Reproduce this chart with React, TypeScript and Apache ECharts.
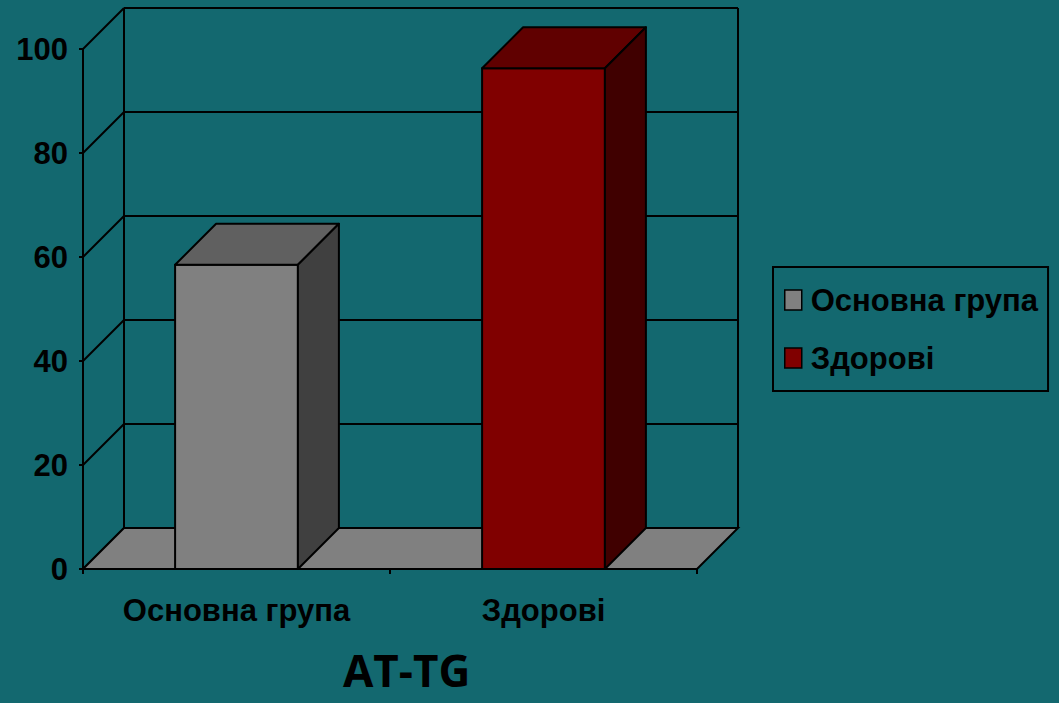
import React, { useEffect, useRef } from "react";
import * as echarts from "echarts";

const categories = ["Основна група", "Здорові"];
const seriesNames = ["Основна група", "Здорові"];
const values = [58.5, 96.3];
const wallTicks = [0, 20, 40, 60, 80, 100];
const titleText = "AT-TG";

const faceColors = [
  { front: "#808080", top: "#606060", side: "#404040" },
  { front: "#800000", top: "#600000", side: "#400000" },
];

const BG = "#13686F";
const DEPTH = 41;
const FONT = '"Liberation Sans", Arial, sans-serif';

export default function App() {
  const ref = useRef<HTMLDivElement>(null);
  useEffect(() => {
    if (!ref.current) return;
    const chart = echarts.init(ref.current, null, { renderer: "svg" });

    const wallSeries: any = {
      type: "custom",
      name: "walls",
      silent: true,
      z: 1,
      data: wallTicks.map((v) => [0, v]),
      renderItem: (params: any, api: any) => {
        const cs = params.coordSys;
        const left = cs.x;
        const right = cs.x + cs.width;
        const v = api.value(1);
        const y = api.coord([0, v])[1];
        const children: any[] = [];
        const ls = { stroke: "#000", lineWidth: 2 };
        children.push({ type: "line", shape: { x1: left, y1: y, x2: left + DEPTH, y2: y - DEPTH }, style: ls });
        children.push({ type: "line", shape: { x1: left + DEPTH, y1: y - DEPTH, x2: right + DEPTH, y2: y - DEPTH }, style: ls });
        if (v === wallTicks[0]) {
          const yTop = api.coord([0, wallTicks[wallTicks.length - 1]])[1];
          children.push({ type: "line", shape: { x1: left + DEPTH, y1: y - DEPTH, x2: left + DEPTH, y2: yTop - DEPTH }, style: ls });
          children.push({ type: "line", shape: { x1: right + DEPTH, y1: y - DEPTH, x2: right + DEPTH, y2: yTop - DEPTH }, style: ls });
          children.push({
            type: "polygon",
            z2: 5,
            shape: { points: [[left, y], [right, y], [right + DEPTH, y - DEPTH], [left + DEPTH, y - DEPTH]] },
            style: { fill: "#808080", stroke: "#000", lineWidth: 2 },
          });
        }
        return { type: "group", children };
      },
    };

    const barSeries = seriesNames.map((name, i) => ({
      type: "custom",
      name,
      z: 3,
      itemStyle: { color: faceColors[i].front },
      data: [[i, values[i]]],
      renderItem: (params: any, api: any) => {
        const ci = api.value(0);
        const v = api.value(1);
        const [cx, y] = api.coord([ci, v]);
        const y0 = api.coord([ci, 0])[1];
        const catW = api.size([1, 0])[0];
        const w = catW * 0.4;
        const l = cx - w / 2;
        const c = faceColors[i];
        const st = { stroke: "#000", lineWidth: 2, lineJoin: "round" };
        return {
          type: "group",
          children: [
            { type: "rect", shape: { x: l, y, width: w, height: y0 - y }, style: { ...st, fill: c.front } },
            {
              type: "polygon",
              shape: { points: [[l, y], [l + w, y], [l + w + DEPTH, y - DEPTH], [l + DEPTH, y - DEPTH]] },
              style: { ...st, fill: c.top },
            },
            {
              type: "polygon",
              shape: { points: [[l + w, y], [l + w + DEPTH, y - DEPTH], [l + w + DEPTH, y0 - DEPTH], [l + w, y0]] },
              style: { ...st, fill: c.side },
            },
          ],
        };
      },
    }));

    chart.setOption({
      animation: false,
      backgroundColor: BG,
      title: {
        text: titleText,
        left: 343,
        top: 647,
        padding: 0,
        textStyle: { fontFamily: '"Open Sans", sans-serif', fontWeight: "bold", fontSize: 44, lineHeight: 46, color: "#000" },
      },
      legend: {
        data: seriesNames,
        orient: "vertical",
        left: 773,
        top: 267,
        padding: [16, 10, 16, 11],
        itemGap: 24,
        itemWidth: 17,
        itemHeight: 20,
        icon: "rect",
        borderColor: "#000",
        borderWidth: 2,
        itemStyle: { borderColor: "#000", borderWidth: 1.5 },
        textStyle: { fontFamily: FONT, fontWeight: "bold", fontSize: 31, lineHeight: 34, color: "#000", padding: [0, 0, 0, 4] },
      },
      grid: { left: 83, right: 362, top: 49, bottom: 134, outerBoundsMode: "none" },
      xAxis: {
        type: "category",
        data: categories,
        boundaryGap: true,
        axisLine: { lineStyle: { color: "#000", width: 2 } },
        axisTick: { show: true, length: 5, lineStyle: { color: "#000", width: 2 } },
        axisLabel: { interval: 0, fontFamily: FONT, fontWeight: "bold", fontSize: 31, color: "#000", margin: 26 },
        splitLine: { show: false },
      },
      yAxis: {
        type: "value",
        min: 0,
        max: 100,
        interval: 20,
        axisLine: { show: true, lineStyle: { color: "#000", width: 2 } },
        axisTick: { show: true, length: 4, lineStyle: { color: "#000", width: 2 } },
        axisLabel: { fontFamily: FONT, fontWeight: "bold", fontSize: 31, color: "#000", margin: 15 },
        splitLine: { show: false },
      },
      series: [wallSeries, ...barSeries],
    });

    return () => chart.dispose();
  }, []);

  return <div ref={ref} style={{ position: "absolute", left: 0, top: 0, width: 1059, height: 703 }} />;
}
